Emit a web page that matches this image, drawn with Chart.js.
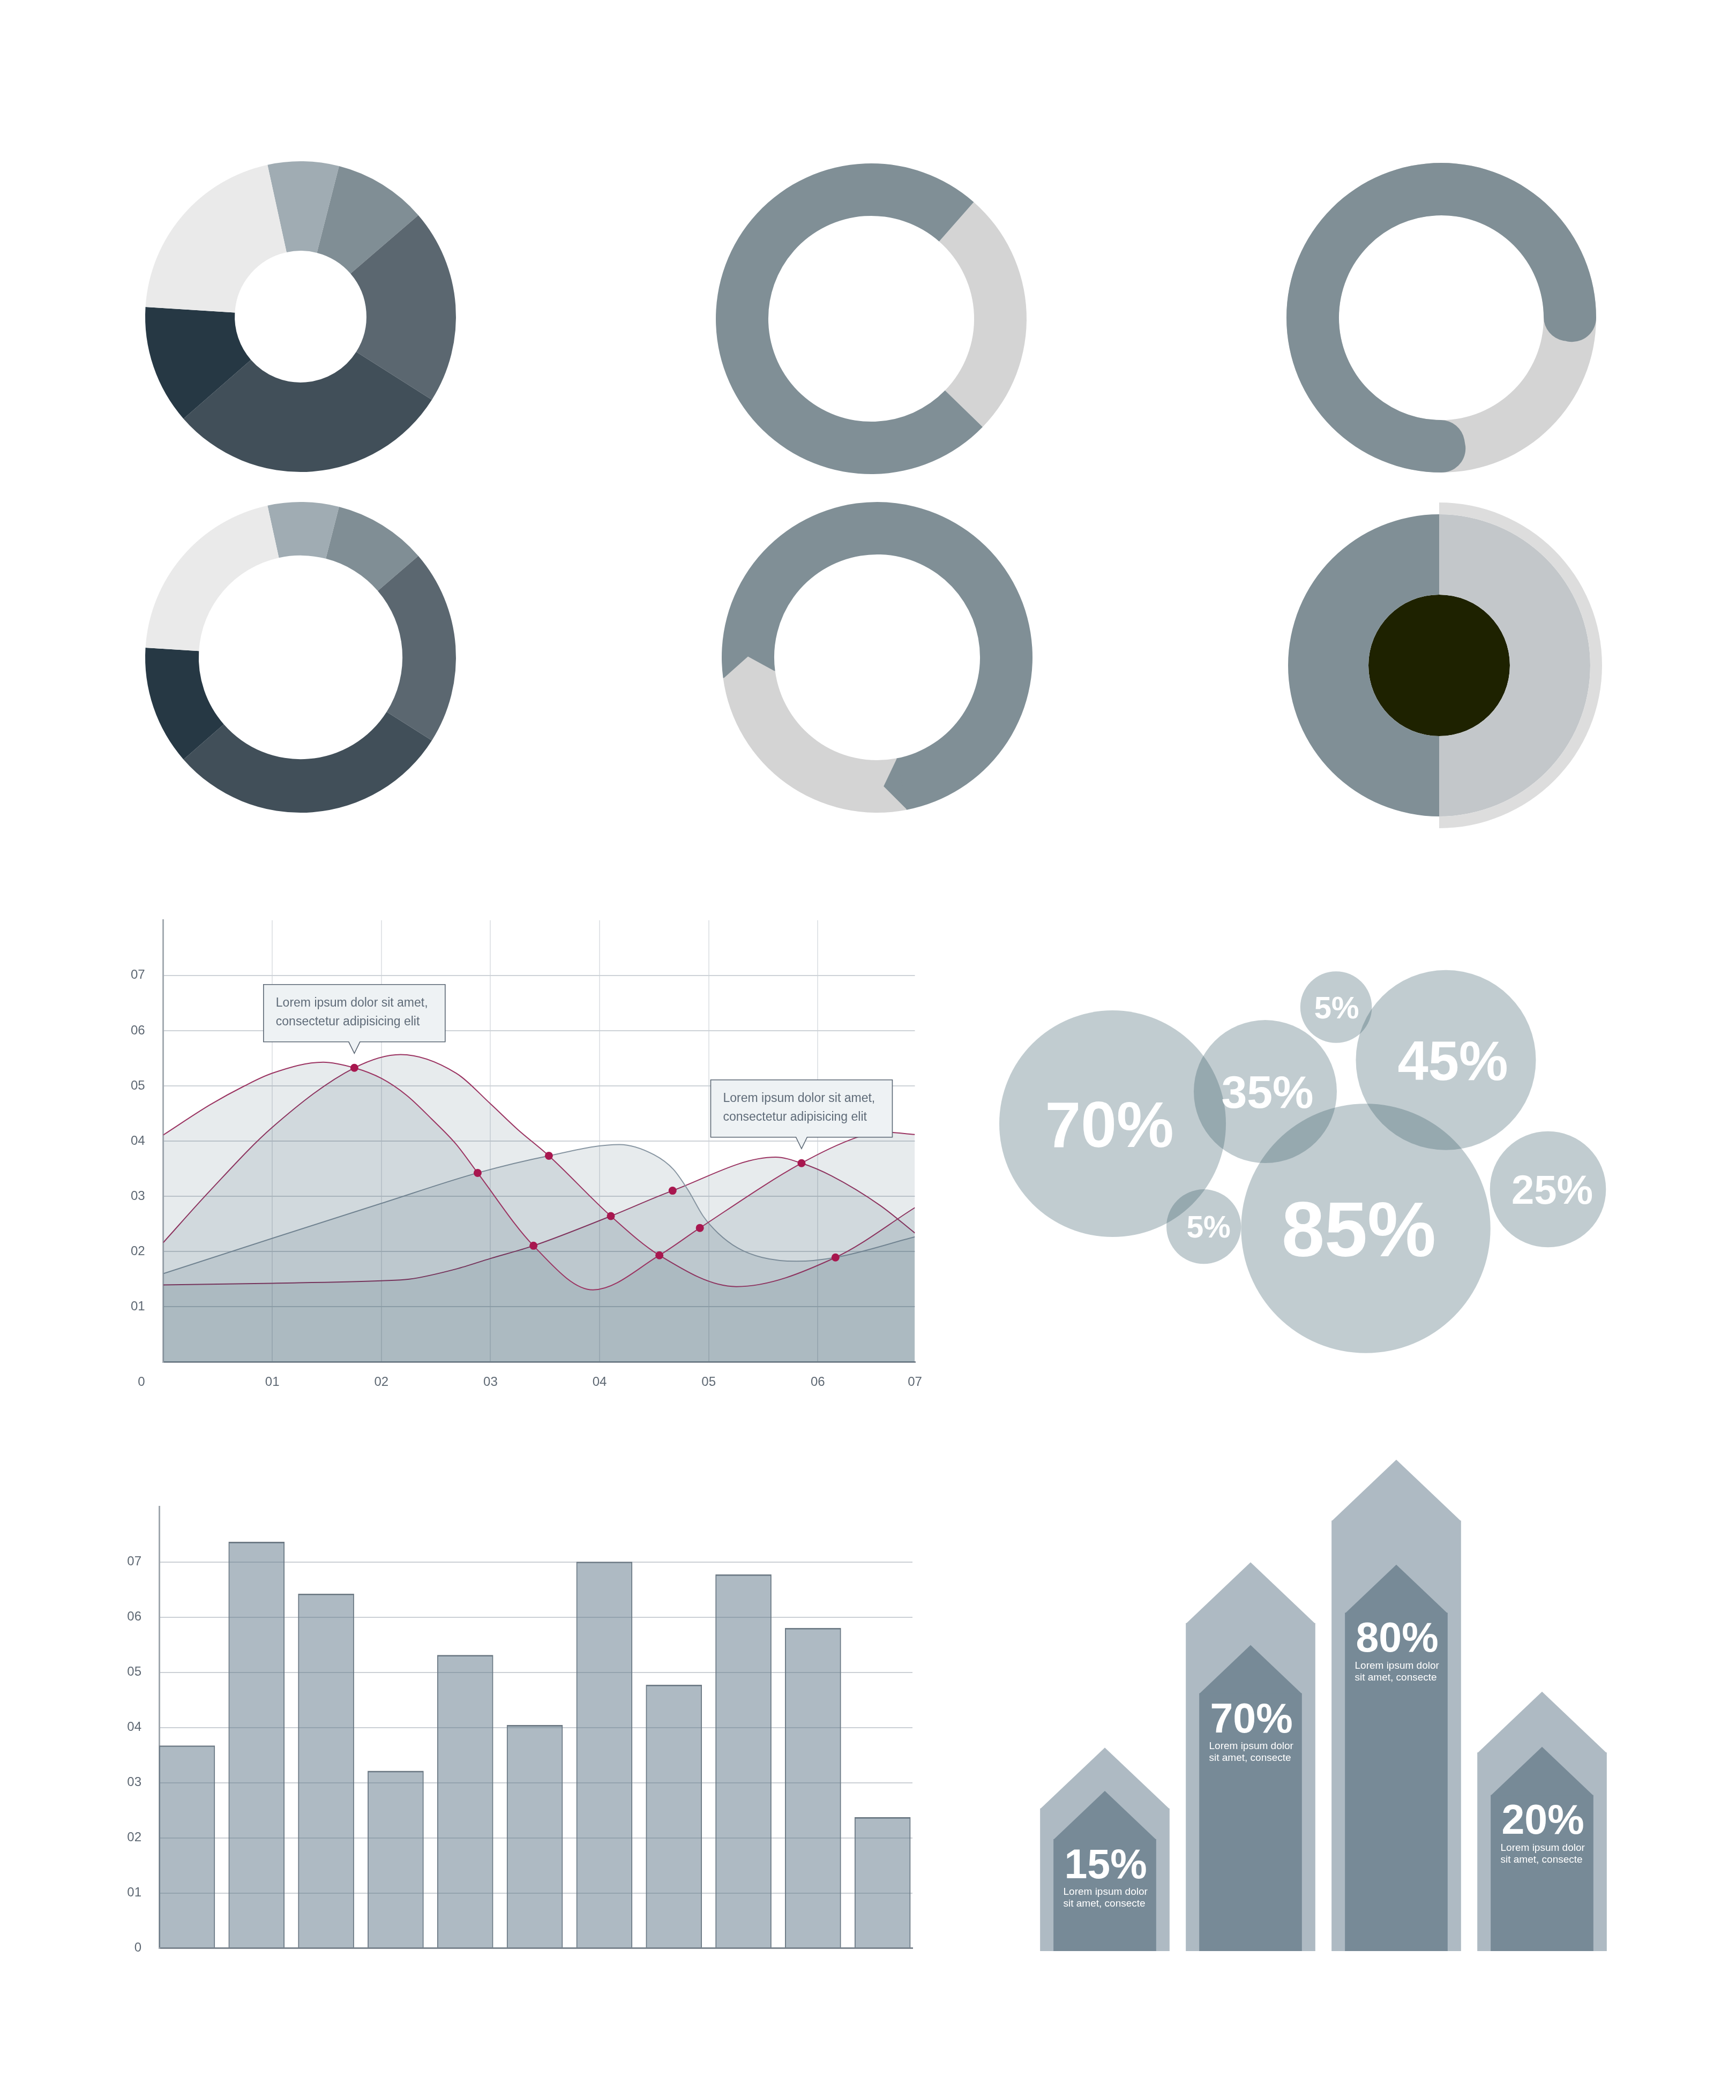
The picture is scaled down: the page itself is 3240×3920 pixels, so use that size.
<!DOCTYPE html>
<html>
<head>
<meta charset="utf-8">
<script src="https://cdn.jsdelivr.net/npm/chart.js@4/dist/chart.umd.min.js"></script>
<style>
html,body{margin:0;padding:0;background:#ffffff;}
body{width:3240px;height:3920px;position:relative;overflow:hidden;}
canvas{position:absolute;}
</style>
</head>
<body>
<script>
// ================= DATA =================
// Donut 1 & 2: six shares (percent of the ring), clockwise from the light slate wedge
const ringShares = [7.4, 9.7, 20.3, 29.6, 12.4, 20.6];
// Donut 3: light part, gray part
const splitShares = [25.8, 74.2];
// Donut 4: light (chevron) part, gray part
const chevronShares = [25.9, 74.1];
// Donut 5: progress arc (gray), remainder
const progressShares = [75, 25];
// Donut 6: right half, left half
const halfShares = [50, 50];

// Area chart
const areaXTicks = [1, 2, 3, 4, 5, 6, 7];
const areaYTicks = [0, 1, 2, 3, 4, 5, 6, 7];
const seriesA = [[0,4.11],[0.428,4.656],[0.745,5.0],[1.0,5.23],[1.466,5.43],[1.752,5.327],[2.0,5.136],[2.232,4.828],[2.458,4.406],[2.684,3.947],[2.882,3.425],[3.394,2.106],[3.939,1.307],[4.548,1.933],[4.919,2.428],[5.851,3.601],[6.347,4.06],[6.573,4.169],[6.89,4.119]];
const seriesB = [[0,2.163],[0.428,3.10],[1.0,4.25],[1.752,5.327],[2.176,5.568],[2.684,5.232],[3.0,4.675],[3.247,4.215],[3.535,3.735],[4.103,2.643],[4.548,1.933],[5.253,1.366],[6.162,1.894],[6.89,2.796]];
const seriesC = [[0,1.6],[1.0,2.24],[2.0,2.873],[2.882,3.425],[3.535,3.735],[4.182,3.939],[4.498,3.755],[4.678,3.486],[4.814,3.103],[4.949,2.643],[5.085,2.336],[5.265,2.067],[5.49,1.894],[5.806,1.825],[6.162,1.894],[6.89,2.267]];
const seriesD = [[0,1.396],[1.0,1.427],[2.0,1.472],[2.255,1.50],[2.684,1.684],[3.0,1.876],[3.394,2.106],[4.103,2.643],[4.669,3.103],[5.614,3.709],[5.851,3.601],[6.125,3.372],[6.573,2.834],[6.89,2.336]];
const markerPoints = [[1.752,5.327],[2.882,3.425],[3.394,2.106],[3.535,3.735],[4.103,2.643],[4.548,1.933],[4.669,3.103],[4.919,2.428],[5.851,3.601],[6.162,1.894]];
const calloutAt = [0, 8];
const calloutText = ['Lorem ipsum dolor sit amet,', 'consectetur adipisicing elit'];

// Bar chart
const barValues = [3.67, 7.36, 6.42, 3.21, 5.31, 4.04, 7.00, 4.77, 6.77, 5.80, 2.37];
const barYTicks = [0, 1, 2, 3, 4, 5, 6, 7];

// Bubbles (x, y in layout units, r = bubble size)
const bubbleLabels = ['70%', '35%', '5%', '45%', '85%', '25%', '5%'];
const bubbleX = [25.65, 54.15, 67.36, 87.85, 72.9, 106.9, 42.66];
const bubbleY = [46.24, 52.24, 68.0, 58.13, 26.7, 34.0, 27.03];
const bubbleR = [211.5, 133.5, 66.8, 168, 232.7, 108.3, 69.6];

// Arrow bars
const arrowLabels = ['15%', '70%', '80%', '20%'];
const arrowOuter = [27.65, 63.6, 83.5, 38.5];
const arrowInner = [21.7, 50.0, 65.6, 30.25];
const arrowCaption = ['Lorem ipsum dolor', 'sit amet, consecte'];

// ================= STYLE / LAYOUT =================
const FONT = "'Liberation Sans', Arial, Helvetica, sans-serif";
const ringColors = ['#A0ACB3', '#808E95', '#5B6770', '#414F59', '#263844', '#EAEAEA'];
const LIGHT = '#D4D4D4', SLATE = '#808F96';
const AXIS_TXT = '#5E6873';
const bubbleFontPx = [120, 86, 58, 103, 144, 76, 57];
const bubbleTextDx = [-6, 4, 1, 13, -13, 8, 9];

function place(left, top, w, h) {
  const c = document.createElement('canvas');
  c.width = w; c.height = h;
  c.style.cssText = 'position:absolute;left:' + left + 'px;top:' + top + 'px;width:' + w + 'px;height:' + h + 'px';
  document.body.appendChild(c);
  return c;
}
function opts(o) {
  const base = { responsive: false, maintainAspectRatio: false, animation: false, devicePixelRatio: 1, events: [] };
  const r = Object.assign(base, o);
  r.plugins = Object.assign({ legend: { display: false }, tooltip: { enabled: false } }, o.plugins || {});
  return r;
}
function ring(cx, cy, R, cutout, datasets, extra, plugins) {
  const S = Math.ceil(2 * R + 24);
  const c = place(cx - S / 2, cy - S / 2, S, S);
  datasets.forEach(d => { d.borderWidth = 0; });
  return new Chart(c, {
    type: 'doughnut',
    data: { labels: datasets[0].data.map((_, i) => 's' + i), datasets },
    options: opts(Object.assign({ radius: R, cutout: cutout, layout: { padding: 0, autoPadding: false } }, extra || {})),
    plugins: plugins || []
  });
}

// ---------- Donuts ----------
ring(561, 591, 290, 128, [{ data: ringShares, backgroundColor: ringColors }], { rotation: -12.3 });
ring(561, 1227, 290, 198, [{ data: ringShares, backgroundColor: ringColors }], { rotation: -12.3 });
ring(1626, 595, 290, 200, [{ data: splitShares, backgroundColor: [LIGHT, SLATE] }], { rotation: 41.3 });

const chevronPlugin = {
  id: 'chevron',
  afterDatasetsDraw(chart) {
    const meta = chart.getDatasetMeta(0);
    const el = meta.data[0];
    const p = el.getProps(['x', 'y', 'startAngle', 'endAngle', 'innerRadius', 'outerRadius']);
    const mid = (p.innerRadius + p.outerRadius) / 2, d = 8 * Math.PI / 180;
    const ctx = chart.ctx;
    function tri(a, b, col) {
      ctx.beginPath();
      ctx.moveTo(p.x + p.outerRadius * Math.cos(a), p.y + p.outerRadius * Math.sin(a));
      ctx.lineTo(p.x + mid * Math.cos(b), p.y + mid * Math.sin(b));
      ctx.lineTo(p.x + p.innerRadius * Math.cos(a), p.y + p.innerRadius * Math.sin(a));
      ctx.closePath();
      ctx.fillStyle = col; ctx.fill();
    }
    ctx.save();
    tri(p.endAngle - 0.004, p.endAngle + d, LIGHT);
    tri(p.startAngle - 0.004, p.startAngle + d, SLATE);
    ctx.restore();
  }
};
ring(1637, 1227, 290, 200, [{ data: chevronShares, backgroundColor: [LIGHT, SLATE] }], { rotation: 169.1 }, [chevronPlugin]);

// Donut 5: background ring + rounded progress arc
const capDeg = Math.asin(45 / 244) * 180 / Math.PI;
const grayShare = progressShares[0] + 2 * capDeg / 3.6;
ring(2690, 593, 289, 199, [{ data: [progressShares[0] + progressShares[1]], backgroundColor: [LIGHT] }]);
ring(2690, 593, 289, 199, [{
  data: [grayShare, 100 - grayShare],
  backgroundColor: [SLATE, 'rgba(0,0,0,0)'],
  borderRadius: c => (c.dataIndex === 0 ? 45 : 0)
}], { rotation: 180 - capDeg });

// Donut 6: split disc with dark core and half halo
(function () {
  const S = 640;
  const c = place(2686 - S / 2, 1242 - S / 2, S, S);
  new Chart(c, {
    type: 'pie',
    data: {
      labels: ['right', 'left'],
      datasets: [
        { data: halfShares, backgroundColor: ['#DDDDDD', 'rgba(0,0,0,0)'], weight: 22, borderWidth: 0 },
        { data: halfShares, backgroundColor: ['#C3C7CA', SLATE], weight: 150, borderWidth: 0 },
        { data: [halfShares[0] + halfShares[1]], backgroundColor: ['#1E2200'], weight: 132, borderWidth: 0 }
      ]
    },
    options: opts({ radius: 304, cutout: 0, layout: { padding: 0, autoPadding: false } })
  });
})();

// ---------- Area chart ----------
(function () {
  const left = 200, top = 1680, W = 1560, H = 960;
  const c = place(left, top, W, H);
  const xMax = 6.89;
  const fillCol = 'rgba(22,54,78,0.1)';
  const maroon = '#9B3462';
  const lineDs = (pts, col) => ({
    data: pts.map(([x, y]) => ({ x, y })), borderColor: col, borderWidth: 2,
    backgroundColor: fillCol, fill: 'origin', pointRadius: 0,
    cubicInterpolationMode: 'monotone', order: 1
  });
  const callouts = {
    id: 'callouts',
    afterDatasetsDraw(chart) {
      const ctx = chart.ctx, xs = chart.scales.x, ys = chart.scales.y;
      calloutAt.forEach(i => {
        const px = xs.getPixelForValue(markerPoints[i][0]);
        const py = ys.getPixelForValue(markerPoints[i][1]);
        const tipY = py - 27, boxB = tipY - 21.5, boxH = 107, boxW = 339;
        const boxL = px - boxW / 2, boxT = boxB - boxH;
        ctx.save();
        ctx.beginPath();
        ctx.moveTo(boxL, boxT); ctx.lineTo(boxL + boxW, boxT); ctx.lineTo(boxL + boxW, boxB);
        ctx.lineTo(px + 10.5, boxB); ctx.lineTo(px, tipY); ctx.lineTo(px - 10.5, boxB);
        ctx.lineTo(boxL, boxB); ctx.closePath();
        ctx.fillStyle = '#EEF2F4'; ctx.fill();
        ctx.lineWidth = 1.6; ctx.strokeStyle = '#5B6774'; ctx.stroke();
        ctx.fillStyle = '#5F6B78';
        ctx.font = '23px ' + FONT;
        ctx.textAlign = 'left'; ctx.textBaseline = 'middle';
        ctx.fillText(calloutText[0], boxL + 23, boxT + 35);
        ctx.fillText(calloutText[1], boxL + 23, boxT + 70);
        ctx.restore();
      });
    }
  };
  new Chart(c, {
    type: 'line',
    data: {
      datasets: [
        lineDs(seriesA, maroon),
        lineDs(seriesB, maroon),
        lineDs(seriesC, '#8896A2'),
        lineDs(seriesD, maroon),
        { data: markerPoints.map(([x, y]) => ({ x, y })), showLine: false, fill: false,
          pointRadius: 7.5, pointBackgroundColor: '#A8174F', pointBorderWidth: 0, order: 0 }
      ]
    },
    options: opts({
      layout: { padding: { left: 0, right: 1760 - 1707.5, top: 1717.7 - top, bottom: 0 }, autoPadding: false },
      scales: {
        x: {
          type: 'linear', min: 0, max: xMax,
          afterBuildTicks: s => { s.ticks = areaXTicks.map(v => ({ value: Math.min(v, xMax) })); },
          afterFit: s => { s.height = top + H - 2542.5; s.paddingLeft = 0; s.paddingRight = 0; },
          ticks: { autoSkip: false, maxRotation: 0, padding: 23, color: AXIS_TXT, font: { size: 24, family: FONT },
                   callback: (v, i) => '0' + areaXTicks[i] },
          grid: { drawTicks: false, lineWidth: 2,
                  color: cx => (cx.tick && cx.tick.value >= xMax - 1e-6) ? 'rgba(0,0,0,0)' : '#E2E5E8' },
          border: { color: '#858E96', width: 3 }
        },
        y: {
          min: 0, max: 8,
          afterBuildTicks: s => { s.ticks = areaYTicks.map(v => ({ value: v })); },
          afterFit: s => { s.width = 304.6 - left; s.paddingTop = 0; s.paddingBottom = 0; },
          ticks: { autoSkip: false, padding: 34, color: AXIS_TXT, font: { size: 24, family: FONT, lineHeight: 1.58 },
                   callback: v => (v === 0 ? ['', '', '0'] : '0' + v) },
          grid: { drawTicks: false, lineWidth: 2, color: '#CDD2D7' },
          border: { color: '#A3AAB1', width: 3 }
        }
      }
    }),
    plugins: [callouts]
  });
})();

// ---------- Bar chart ----------
(function () {
  const left = 200, top = 2760, W = 1560, H = 920;
  const c = place(left, top, W, H);
  new Chart(c, {
    type: 'bar',
    data: {
      datasets: [{
        data: barValues.map((v, i) => ({ x: i, y: v })),
        barThickness: 104,
        backgroundColor: 'rgba(93,117,135,0.5)',
        borderColor: '#6C7882',
        borderWidth: { top: 2, left: 1.2, right: 1.2, bottom: 0 },
        borderSkipped: 'start'
      }]
    },
    options: opts({
      layout: { padding: { left: 0, right: 1760 - 1703, top: 2812.5 - top, bottom: 0 }, autoPadding: false },
      scales: {
        x: {
          type: 'linear', min: -0.4, max: 10.43, offset: false,
          afterFit: s => { s.height = top + H - 3636.5; s.paddingLeft = 0; s.paddingRight = 0; },
          ticks: { display: false },
          grid: { display: false, drawTicks: false },
          border: { color: '#7E8790', width: 3 }
        },
        y: {
          min: 0, max: 8,
          afterBuildTicks: s => { s.ticks = barYTicks.map(v => ({ value: v })); },
          afterFit: s => { s.width = 297 - left; s.paddingTop = 0; s.paddingBottom = 0; },
          ticks: { autoSkip: false, padding: 33, color: AXIS_TXT, font: { size: 24, family: FONT },
                   callback: v => (v === 0 ? '0' : '0' + v) },
          grid: { drawTicks: false, lineWidth: 2,
                  color: cx => (cx.tick && cx.tick.value === 0) ? 'rgba(0,0,0,0)' : '#CBD0D5' },
          border: { color: '#A0A7AE', width: 3 }
        }
      }
    })
  });
})();

// ---------- Bubbles ----------
(function () {
  const c = place(1820, 1780, 1200, 780);
  const bubbleText = {
    id: 'bubbleText',
    afterDatasetsDraw(chart) {
      const ctx = chart.ctx;
      chart.getDatasetMeta(0).data.forEach((el, i) => {
        const fs = bubbleFontPx[i];
        ctx.save();
        ctx.fillStyle = '#ffffff';
        ctx.font = 'bold ' + fs + 'px ' + FONT;
        ctx.textAlign = 'center'; ctx.textBaseline = 'alphabetic';
        ctx.fillText(bubbleLabels[i], el.x + bubbleTextDx[i], el.y + fs * 0.358);
        ctx.restore();
      });
    }
  };
  new Chart(c, {
    type: 'bubble',
    data: {
      labels: bubbleLabels,
      datasets: [{
        data: bubbleX.map((x, i) => ({ x, y: bubbleY[i], r: bubbleR[i] })),
        backgroundColor: 'rgba(50,86,100,0.3)', borderWidth: 0, hoverRadius: 0
      }]
    },
    options: opts({
      layout: { padding: 0, autoPadding: false },
      clip: false,
      scales: {
        x: { display: false, min: 0, max: 120, offset: false },
        y: { display: false, min: 0, max: 78, offset: false }
      }
    }),
    plugins: [bubbleText]
  });
})();

// ---------- Arrow bars ----------
(function () {
  const c = place(1926, 2680, 1088, 962);
  const arrows = {
    id: 'arrows',
    afterDatasetDraw(chart, args) {
      const ctx = chart.ctx;
      const ds = chart.data.datasets[args.index];
      args.meta.data.forEach(el => {
        const p = el.getProps(['x', 'y', 'width']);
        const h = p.width / 2 * 0.945;
        ctx.save();
        ctx.beginPath();
        ctx.moveTo(p.x - p.width / 2, p.y + 0.6);
        ctx.lineTo(p.x, p.y - h);
        ctx.lineTo(p.x + p.width / 2, p.y + 0.6);
        ctx.closePath();
        ctx.fillStyle = ds.backgroundColor; ctx.fill();
        ctx.restore();
      });
    },
    afterDatasetsDraw(chart) {
      const ctx = chart.ctx;
      chart.getDatasetMeta(1).data.forEach((el, i) => {
        const p = el.getProps(['x', 'y', 'width']);
        const lx = p.x - p.width / 2;
        const base = p.y + 72.5;
        ctx.save();
        ctx.fillStyle = '#ffffff';
        ctx.textAlign = 'left';
        ctx.textBaseline = 'alphabetic';
        ctx.font = 'bold 77px ' + FONT;
        ctx.fillText(arrowLabels[i], lx + 20, base);
        ctx.font = '19px ' + FONT;
        ctx.textBaseline = 'middle';
        ctx.fillText(arrowCaption[0], lx + 18, base + 26);
        ctx.fillText(arrowCaption[1], lx + 18, base + 48);
        ctx.restore();
      });
    }
  };
  new Chart(c, {
    type: 'bar',
    data: {
      labels: arrowLabels,
      datasets: [
        { data: arrowOuter, barThickness: 241, backgroundColor: '#AEBAC3', borderWidth: 0, grouped: false, order: 2 },
        { data: arrowInner, barThickness: 191, backgroundColor: '#778A97', borderWidth: 0, grouped: false, order: 1 }
      ]
    },
    options: opts({
      layout: { padding: 0, autoPadding: false },
      scales: { x: { display: false }, y: { display: false, min: 0, max: 100 } }
    }),
    plugins: [arrows]
  });
})();
</script>
</body>
</html>
